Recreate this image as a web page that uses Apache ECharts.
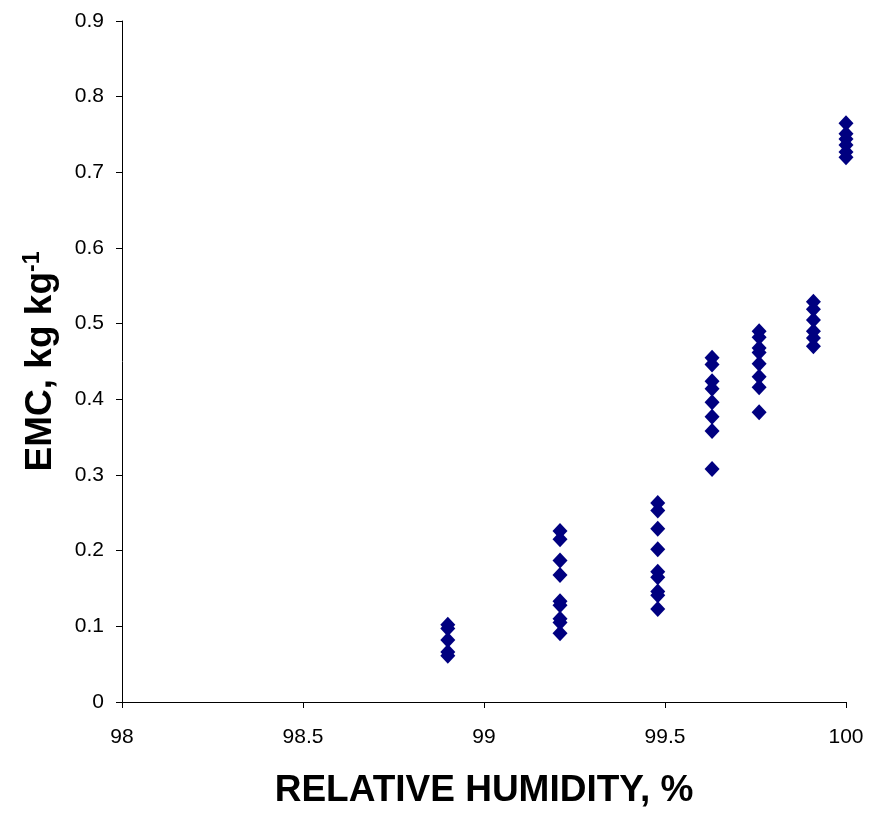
<!DOCTYPE html>
<html>
<head>
<meta charset="utf-8">
<script src="https://cdn.jsdelivr.net/npm/echarts@6/dist/echarts.min.js"></script>
<style>html,body{margin:0;padding:0;background:#fff}#c{width:870px;height:814px}</style>
</head>
<body>
<div id="c"></div>
<script>
const rhLevels = [98.9, 99.21, 99.48, 99.63, 99.76, 99.91, 100];
const emc_989 = [0.102, 0.097, 0.082, 0.066, 0.061];
const emc_9921 = [0.226, 0.215, 0.187, 0.168, 0.133, 0.128, 0.110, 0.105, 0.091];
const emc_9948 = [0.263, 0.253, 0.229, 0.202, 0.172, 0.165, 0.146, 0.141, 0.123];
const emc_9963 = [0.455, 0.446, 0.424, 0.414, 0.396, 0.377, 0.358, 0.308];
const emc_9976 = [0.490, 0.482, 0.468, 0.462, 0.447, 0.430, 0.416, 0.383];
const emc_9991 = [0.529, 0.519, 0.505, 0.490, 0.481, 0.470];
const emc_100 = [0.765, 0.751, 0.744, 0.736, 0.727, 0.720];
const xTicks = [98, 98.5, 99, 99.5, 100];
const yTicks = [0, 0.1, 0.2, 0.3, 0.4, 0.5, 0.6, 0.7, 0.8, 0.9];

const groups = [emc_989, emc_9921, emc_9948, emc_9963, emc_9976, emc_9991, emc_100];
const points = [];
groups.forEach((g, i) => g.forEach(v => points.push([rhLevels[i], v])));

const chart = echarts.init(document.getElementById('c'), null, {renderer: 'canvas'});
const font = '"Liberation Sans", Arial, sans-serif';
chart.setOption({
  animation: false,
  backgroundColor: '#fff',
  grid: {left: 122, right: 24, top: 21, bottom: 107, containLabel: false},
  xAxis: {
    type: 'value', min: 98, max: 100, interval: 0.5,
    name: 'RELATIVE HUMIDITY, %', nameLocation: 'middle', nameGap: 70,
    nameTextStyle: {fontFamily: font, fontWeight: 'bold', fontSize: 37, color: '#000'},
    axisLine: {show: true, lineStyle: {color: '#000', width: 1}},
    axisTick: {show: true, inside: false, length: 6, lineStyle: {color: '#000'}},
    axisLabel: {fontFamily: font, fontSize: 21, color: '#000', margin: 25,
      formatter: v => String(v)},
    splitLine: {show: false}
  },
  yAxis: {
    type: 'value', min: 0, max: 0.9, interval: 0.1,
    name: '{a|EMC, kg kg}{b|-1}', nameLocation: 'middle', nameGap: 62,
    nameTextStyle: {
      rich: {
        a: {fontFamily: font, fontWeight: 'bold', fontSize: 37, color: '#000'},
        b: {fontFamily: font, fontWeight: 'bold', fontSize: 23, color: '#000', verticalAlign: 'top', padding: [0, 0, 16, 0]}
      }
    },
    axisLine: {show: true, lineStyle: {color: '#000', width: 1}},
    axisTick: {show: true, inside: false, length: 6, lineStyle: {color: '#000'}},
    axisLabel: {fontFamily: font, fontSize: 21, color: '#000', margin: 18,
      formatter: v => (Math.round(v * 10) / 10).toString()},
    splitLine: {show: false}
  },
  series: [{
    type: 'scatter',
    data: points,
    symbol: 'diamond',
    symbolSize: [15, 16],
    itemStyle: {color: '#000080', opacity: 1}
  }]
});
</script>
</body>
</html>
